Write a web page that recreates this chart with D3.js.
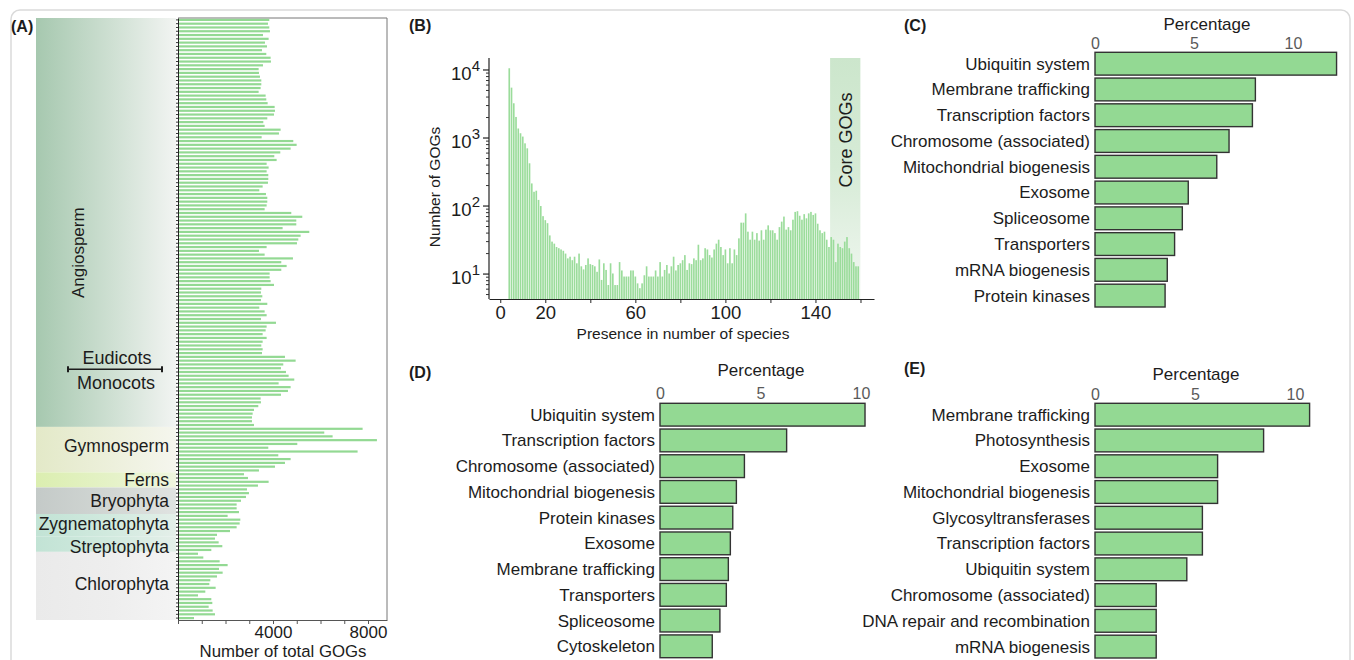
<!DOCTYPE html>
<html>
<head>
<meta charset="utf-8">
<script src="https://cdn.jsdelivr.net/npm/d3@7"></script>
<style>
  body { margin: 0; background: #fff; }
  svg { display: block; font-family: "Liberation Sans", Arial, sans-serif; }
</style>
</head>
<body>
<svg width="1354" height="660"></svg>
<script>
// ---- data ----
// (A) number of total GOGs per species, top to bottom
const totalGOGs = [3844,3788,3844,3872,3578,3816,3662,3746,3536,3718,
  3900,3914,3578,3395,3409,3451,3508,3508,3479,3395,
  3690,3718,3774,4069,4083,4041,3760,3592,3648,4321,
  4251,3522,4854,4995,4742,4307,4055,4153,3732,3816,
  3732,3802,3802,3788,3564,3423,3704,3760,3760,3732,
  3648,4770,5233,4981,4981,4405,5528,5163,5065,5009,
  3732,3409,3648,4840,4349,4574,4349,3858,3858,3900,
  4041,3508,3493,3550,3493,3760,3423,3648,3732,3493,
  4125,3732,3690,3564,3732,3564,3508,3564,3536,4504,
  4953,4433,4335,4546,4658,4896,4237,4742,4630,4335,
  3479,3493,3381,3199,3143,3115,3115,3199,7773,6159,
  6510,8376,5023,3802,7562,4223,4742,4504,4083,3409,
  2778,2946,3816,3367,2904,2988,2862,2652,2469,2469,
  2567,2090,2624,2596,2469,2189,1642,1557,1712,1866,
  1403,842,1066,1754,2090,1726,1880,1642,1361,1319,
  1585,1150,842,1403,1445,1291,1459,1557,673];

// clade bands, as species index ranges [from, to)
const cladeNames = ['Angiosperm','Gymnosperm','Ferns','Bryophyta','Zygnematophyta','Streptophyta','Chlorophyta'];
const cladeFrom  = [0, 108, 120, 124, 131, 137, 141];
const cladeTo    = [108, 120, 124, 131, 137, 141, 159];
const eudicotSplit = 88;

// (B) number of GOGs by presence in number of species (4 .. 159)
const presenceFirst = 4;
const gogCounts = [10600,5500,3240,2040,1380,1175,1050,835,705,425,
  215,162,168,123,100,71,62,56,37,30,
  28,25,24,23,22,20,17,18,16,18,
  14.4,20,13,11.7,13.6,17,14,13.6,13,10.8,
  16.4,8.2,14.4,11.5,6.9,14.4,10.2,6.9,6.9,15,
  11.3,9.2,9.2,9.2,11.3,11.3,9.2,7.3,6.2,7.3,
  9.6,13,9.2,9.2,9.2,11.3,9.2,15,9.2,11.5,
  13.6,10.2,13,18,11.3,13.6,14.4,16,19,11.5,
  14.4,14,17,16,27,16,17,24,23,19,
  17.5,23,28,32,25,19,23,14.4,24,14.4,
  23,19,33.5,57,57,78,42,32,42,32,
  40,31,44,32,45,52,44,44,40,32,
  49,59,70,45,49,44,63,82,84,72,
  63,76,66,78,82,74,78,55,44,40,
  42,32,25,35,32,15,28,25,24,30,
  35,24,20,15,13,13];
const coreFrom = 147;
const bXTicks = [0,20,40,60,80,100,120,140,160];
const bXLabels = [0,20,60,100,140];

// (C)
const catC = ['Ubiquitin system','Membrane trafficking','Transcription factors','Chromosome (associated)',
  'Mitochondrial biogenesis','Exosome','Spliceosome','Transporters','mRNA biogenesis','Protein kinases'];
const valC = [12.2, 8.1, 7.95, 6.77, 6.15, 4.71, 4.41, 4.02, 3.65, 3.54];
// (D)
const catD = ['Ubiquitin system','Transcription factors','Chromosome (associated)','Mitochondrial biogenesis',
  'Protein kinases','Exosome','Membrane trafficking','Transporters','Spliceosome','Cytoskeleton'];
const valD = [10.2, 6.3, 4.2, 3.8, 3.62, 3.5, 3.4, 3.3, 2.98, 2.6];
// (E)
const catE = ['Membrane trafficking','Photosynthesis','Exosome','Mitochondrial biogenesis','Glycosyltransferases',
  'Transcription factors','Ubiquitin system','Chromosome (associated)','DNA repair and recombination','mRNA biogenesis'];
const valE = [10.73, 8.43, 6.13, 6.13, 5.37, 5.37, 4.59, 3.06, 3.06, 3.06];
const pctTicks = [0, 5, 10];

// ---- styles ----
const barGreen = '#93d993';
const ink = '#1c1c1c';
const cladeColors = {
  Angiosperm:     ['#a6c8af', '#cfe0d3', '#f2f4f2'],
  Gymnosperm:     ['#e3e9c8', '#edf0dc', '#f5f6ee'],
  Ferns:          ['#dbeeb0', '#e5f2c8', '#eff6df'],
  Bryophyta:      ['#c4cac8', '#d2d7d4', '#e0e3e1'],
  Zygnematophyta: ['#c2e3d5', '#d2eadf', '#e4efe9'],
  Streptophyta:   ['#c2e3d5', '#d2eadf', '#e4efe9'],
  Chlorophyta:    ['#eaeaea', '#eeeeee', '#f4f4f4']
};

const svg = d3.select('svg');
const defs = svg.append('defs');

// outer frame
svg.append('rect')
  .attr('x', 11).attr('y', 10).attr('width', 1339).attr('height', 700).attr('rx', 9)
  .attr('fill', 'none').attr('stroke', '#dadada').attr('stroke-width', 1.5);

const panelLabel = (t, x, y) => svg.append('text').attr('x', x).attr('y', y)
  .attr('font-size', 16).attr('font-weight', 'bold').attr('fill', ink).text(t);
panelLabel('(A)', 11, 32);
panelLabel('(B)', 409, 31);
panelLabel('(C)', 904, 31);
panelLabel('(D)', 409, 378);
panelLabel('(E)', 904, 374);

// ================= (A) =================
const xA = d3.scaleLinear().domain([0, 8800]).range([178, 387]);
const yA = d3.scaleBand().domain(d3.range(totalGOGs.length)).range([18, 620])
  .paddingInner(0.42).paddingOuter(0.21);
const yIdx = d3.scaleLinear().domain([0, totalGOGs.length]).range([18, 620]);

const gA = svg.append('g');

// clade bands
cladeNames.forEach((name, i) => {
  const gid = 'clade' + i;
  const c = cladeColors[name];
  const lg = defs.append('linearGradient').attr('id', gid).attr('x1', 0).attr('x2', 1).attr('y1', 0).attr('y2', 0);
  lg.append('stop').attr('offset', 0).attr('stop-color', c[0]);
  lg.append('stop').attr('offset', 0.55).attr('stop-color', c[1]);
  lg.append('stop').attr('offset', 1).attr('stop-color', c[2]);
  gA.append('rect')
    .attr('x', 36).attr('width', 140)
    .attr('y', yIdx(cladeFrom[i])).attr('height', yIdx(cladeTo[i]) - yIdx(cladeFrom[i]))
    .attr('fill', `url(#${gid})`);
});

// clade labels
gA.append('text')
  .attr('transform', `translate(84,${yIdx(62)}) rotate(-90)`)
  .attr('text-anchor', 'middle').attr('font-size', 17).attr('fill', ink).text(cladeNames[0]);
const labelShift = { Gymnosperm: -4, Ferns: 0, Bryophyta: 0, Zygnematophyta: -1, Streptophyta: 3, Chlorophyta: -2 };
cladeNames.slice(1).forEach((name, j) => {
  const i = j + 1;
  const cy = (yIdx(cladeFrom[i]) + yIdx(cladeTo[i])) / 2 + labelShift[name];
  gA.append('text').attr('x', 169).attr('y', cy).attr('dy', '0.35em')
    .attr('text-anchor', 'end').attr('font-size', 17.5).attr('fill', ink).text(name);
});

// eudicots / monocots divider
const ySplit = yIdx(eudicotSplit) + 18;
gA.append('line').attr('x1', 68).attr('x2', 162).attr('y1', ySplit).attr('y2', ySplit)
  .attr('stroke', ink).attr('stroke-width', 1.5);
[68, 162].forEach(x => gA.append('line').attr('x1', x).attr('x2', x)
  .attr('y1', ySplit - 3).attr('y2', ySplit + 3).attr('stroke', ink).attr('stroke-width', 2));
gA.append('text').attr('x', 117).attr('y', ySplit - 11).attr('dy', '0.35em')
  .attr('text-anchor', 'middle').attr('font-size', 18).attr('fill', ink).text('Eudicots');
gA.append('text').attr('x', 116).attr('y', ySplit + 14).attr('dy', '0.35em')
  .attr('text-anchor', 'middle').attr('font-size', 18).attr('fill', ink).text('Monocots');

// frame of plot A
gA.append('line').attr('x1', 178).attr('x2', 387).attr('y1', 18).attr('y2', 18).attr('stroke', '#777');
gA.append('line').attr('x1', 387).attr('x2', 387).attr('y1', 18).attr('y2', 620).attr('stroke', '#777');

// bars
gA.selectAll('rect.bar').data(totalGOGs).enter().append('rect')
  .attr('class', 'bar')
  .attr('x', xA(0))
  .attr('y', (d, i) => yA(i))
  .attr('width', d => xA(d) - xA(0))
  .attr('height', yA.bandwidth())
  .attr('fill', barGreen);

// axes
const axA = gA.append('g').attr('transform', `translate(${xA(0)},0)`)
  .call(d3.axisLeft(yA).tickSize(2).tickSizeOuter(0).tickFormat(''));
axA.selectAll('line').attr('stroke', '#333');
axA.select('.domain').attr('stroke', '#222');

const axAx = gA.append('g').attr('transform', 'translate(0,620)')
  .call(d3.axisBottom(xA).tickValues(d3.range(0, 9000, 1000)).tickSize(4).tickPadding(2).tickSizeOuter(0)
    .tickFormat(d => (d === 4000 || d === 8000) ? d : ''));
axAx.select('.domain').attr('stroke', '#555');
axAx.selectAll('line').attr('stroke', '#555');
axAx.selectAll('text').attr('font-size', 17).attr('fill', ink)
  .attr('font-family', '"Liberation Sans", Arial, sans-serif');
gA.append('text').attr('x', 283).attr('y', 657).attr('text-anchor', 'middle')
  .attr('font-size', 16.8).attr('fill', ink).text('Number of total GOGs');

// ================= (B) =================
const xB = d3.scaleLinear().domain([-5, 166]).range([489, 874]);
const yB = d3.scaleLog().domain([4.3, 15000]).range([299, 58]);
const gB = svg.append('g');

const cg = defs.append('linearGradient').attr('id', 'coreGrad').attr('x1', 0).attr('x2', 0).attr('y1', 0).attr('y2', 1);
cg.append('stop').attr('offset', 0).attr('stop-color', '#cce6cc');
cg.append('stop').attr('offset', 0.45).attr('stop-color', '#d6ebd6');
cg.append('stop').attr('offset', 1).attr('stop-color', '#f1f7f1');
gB.append('rect')
  .attr('x', xB(coreFrom - 0.5)).attr('width', xB(presenceFirst + gogCounts.length - 0.5) - xB(coreFrom - 0.5) + 1)
  .attr('y', 58).attr('height', 241).attr('fill', 'url(#coreGrad)');
gB.append('text')
  .attr('transform', `translate(${(xB(coreFrom - 0.5) + xB(presenceFirst + gogCounts.length - 0.5)) / 2 + 1},140) rotate(-90)`)
  .attr('text-anchor', 'middle').attr('dy', '0.35em').attr('font-size', 18).attr('fill', ink).text('Core GOGs');

gB.selectAll('rect.bar').data(gogCounts).enter().append('rect')
  .attr('class', 'bar')
  .attr('x', (d, i) => xB(presenceFirst + i - 0.5) + 0.3)
  .attr('width', (d, i) => xB(presenceFirst + i + 0.5) - xB(presenceFirst + i - 0.5) - 0.6)
  .attr('y', d => yB(d))
  .attr('height', d => 299 - yB(d))
  .attr('fill', '#9bdc9b');

// y axis: log ticks
const majors = [10, 100, 1000, 10000];
const minors = [];
[1, 10, 100, 1000].forEach(b => d3.range(2, 10).forEach(k => { if (b * k >= 4.3) minors.push(b * k); }));
const ayB = gB.append('g').attr('transform', 'translate(489,0)');
ayB.append('line').attr('x1', 0).attr('x2', 0).attr('y1', 58).attr('y2', 299).attr('stroke', '#222').attr('stroke-width', 1.2);
ayB.selectAll('line.minor').data(minors).enter().append('line')
  .attr('x1', -3).attr('x2', 0).attr('y1', d => yB(d)).attr('y2', d => yB(d)).attr('stroke', '#333');
ayB.selectAll('line.major').data(majors).enter().append('line')
  .attr('x1', -6).attr('x2', 0).attr('y1', d => yB(d)).attr('y2', d => yB(d)).attr('stroke', '#222').attr('stroke-width', 1.2);
const lab = ayB.selectAll('text.lab').data(majors).enter().append('text')
  .attr('x', -9).attr('y', d => yB(d) + 10).attr('text-anchor', 'end').attr('fill', ink).attr('font-size', 18.5);
lab.append('tspan').text('10');
lab.append('tspan').attr('dy', -9).attr('font-size', 15).text(d => Math.round(Math.log10(d)));

// x axis
const axB = gB.append('g').attr('transform', 'translate(0,299)')
  .call(d3.axisBottom(xB).tickValues(bXTicks).tickSize(4).tickSizeOuter(0)
    .tickFormat(d => bXLabels.includes(d) ? d : ''));
axB.select('.domain').attr('stroke', '#222').attr('stroke-width', 1.2);
axB.selectAll('line').attr('stroke', '#222');
axB.selectAll('text').attr('font-size', 18.5).attr('fill', ink)
  .attr('font-family', '"Liberation Sans", Arial, sans-serif');

gB.append('text').attr('x', 683).attr('y', 339).attr('text-anchor', 'middle')
  .attr('font-size', 15.5).attr('fill', ink).text('Presence in number of species');
gB.append('text').attr('transform', 'translate(440,187) rotate(-90)').attr('text-anchor', 'middle')
  .attr('font-size', 15.5).attr('fill', ink).text('Number of GOGs');

// ================= (C), (D), (E) =================
function pctPanel(cats, vals, o) {
  const x = d3.scaleLinear().domain([0, 10]).range([o.x0, o.x10]);
  const y = d3.scaleBand().domain(cats).range([o.top, o.bottom]).paddingInner(0.115);
  const g = svg.append('g');

  g.selectAll('rect').data(cats).enter().append('rect')
    .attr('x', x(0))
    .attr('y', d => y(d))
    .attr('width', (d, i) => x(vals[i]) - x(0))
    .attr('height', y.bandwidth())
    .attr('fill', barGreen)
    .attr('stroke', '#333').attr('stroke-width', 1.4);

  g.selectAll('text.cat').data(cats).enter().append('text')
    .attr('class', 'cat')
    .attr('x', x(0) - 5)
    .attr('y', d => y(d) + y.bandwidth() / 2)
    .attr('dy', '0.35em')
    .attr('text-anchor', 'end')
    .attr('font-size', 17).attr('fill', ink)
    .text(d => d);

  const ax = g.append('g').attr('transform', `translate(0,${o.tickY})`)
    .call(d3.axisTop(x).tickValues(pctTicks).tickSize(0).tickPadding(0));
  ax.select('.domain').remove();
  ax.selectAll('text').attr('font-size', 16).attr('fill', '#5a5a5a')
    .attr('font-family', '"Liberation Sans", Arial, sans-serif');

  g.append('text').attr('x', o.titleX).attr('y', o.titleY).attr('text-anchor', 'middle')
    .attr('font-size', 17).attr('fill', ink).text('Percentage');
}

pctPanel(catC, valC, { x0: 1095, x10: 1293, top: 52.3, bottom: 307, tickY: 48.5, titleX: 1207, titleY: 29.5 });
pctPanel(catD, valD, { x0: 660, x10: 861, top: 403.3, bottom: 657.7, tickY: 399, titleX: 761, titleY: 375.5 });
pctPanel(catE, valE, { x0: 1095, x10: 1295, top: 403.3, bottom: 658, tickY: 400, titleX: 1196, titleY: 380 });
</script>
</body>
</html>
